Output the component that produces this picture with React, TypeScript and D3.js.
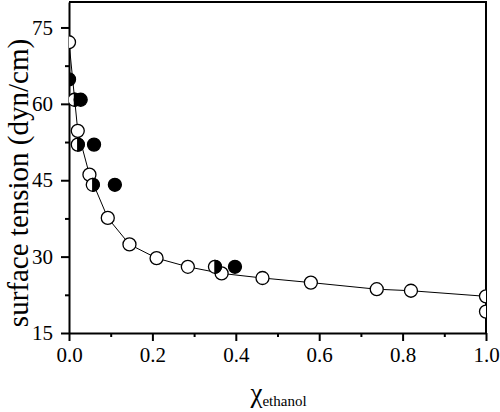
import React, { useEffect, useRef } from 'react';
import * as d3 from 'd3';

// Open circles (the fitted curve runs through all but the last one)
const OPEN_X = [0, 0.021, 0.049, 0.093, 0.145, 0.21, 0.285, 0.366, 0.464, 0.58, 0.738, 0.82, 1.0, 1.0];
const OPEN_Y = [72.1, 54.7, 46.1, 37.6, 32.4, 29.7, 28.0, 26.7, 25.8, 24.9, 23.6, 23.3, 22.2, 19.2];

// Curve through the open circles
const CURVE_X = [0, 0.021, 0.049, 0.093, 0.145, 0.21, 0.285, 0.366, 0.464, 0.58, 0.738, 0.82, 1.0];
const CURVE_Y = [72.1, 54.7, 46.1, 37.6, 32.4, 29.7, 28.0, 26.7, 25.8, 24.9, 23.6, 23.3, 22.2];

// Half filled circles (right half black)
const HALF_X = [0.013, 0.021, 0.057, 0.35];
const HALF_Y = [60.8, 52.0, 44.1, 28.0];

// Filled circles
const FILLED_X = [0, 0.028, 0.06, 0.11, 0.398];
const FILLED_Y = [64.8, 60.8, 52.0, 44.1, 28.0];

const X_TICKS = [0, 0.2, 0.4, 0.6, 0.8, 1.0];
const X_MINOR = [0.1, 0.3, 0.5, 0.7, 0.9];
const Y_TICKS = [15, 30, 45, 60, 75];
const Y_MINOR = [22.5, 37.5, 52.5, 67.5];

const FONT = '"Liberation Serif", "Times New Roman", serif';

export default function App() {
  const ref = useRef<SVGSVGElement>(null);

  useEffect(() => {
    const margin = { top: 2, right: 14, bottom: 79, left: 69 };
    const width = 500 - margin.left - margin.right;
    const height = 412 - margin.top - margin.bottom;

    const root = d3.select(ref.current);
    root.selectAll('*').remove();

    const svg = root.append('g')
      .attr('transform', 'translate(' + margin.left + ',' + margin.top + ')');

    const x = d3.scaleLinear().domain([0, 1]).range([0, width]);
    const y = d3.scaleLinear().domain([15, 80]).range([height, 0]);

    svg.append('clipPath').attr('id', 'plot-clip')
      .append('rect').attr('width', width).attr('height', height);

    // frame (top and right)
    svg.append('path')
      .attr('d', `M0,0H${width}V${height}`)
      .attr('fill', 'none')
      .attr('stroke', 'black')
      .attr('stroke-width', 2);

    // bottom axis
    const xAxis = svg.append('g')
      .attr('transform', 'translate(0,' + height + ')')
      .call(d3.axisBottom(x).tickValues(X_TICKS).tickSize(8).tickSizeOuter(0).tickPadding(4)
        .tickFormat(d3.format('.1f')));
    xAxis.append('g')
      .call(d3.axisBottom(x).tickValues(X_MINOR).tickSize(4).tickFormat(() => ''))
      .select('.domain').remove();

    // left axis
    const yAxis = svg.append('g')
      .call(d3.axisLeft(y).tickValues(Y_TICKS).tickSize(8).tickSizeOuter(0).tickPadding(8));
    yAxis.append('g')
      .call(d3.axisLeft(y).tickValues(Y_MINOR).tickSize(4).tickFormat(() => ''))
      .select('.domain').remove();

    [xAxis, yAxis].forEach(a => {
      a.attr('font-family', null).style('font-family', FONT);
      a.selectAll('path, line').attr('stroke', 'black').attr('stroke-width', 2);
      a.selectAll('text')
        .style('font-family', FONT)
        .style('font-size', '21px')
        .attr('fill', 'black');
    });
    xAxis.selectAll('text').attr('dy', '0.82em');

    const plot = svg.append('g').attr('clip-path', 'url(#plot-clip)');

    const curve = d3.line<number>()
      .x((d, i) => x(CURVE_X[i]))
      .y(d => y(d));
    plot.append('path')
      .attr('d', curve(CURVE_Y))
      .attr('fill', 'none')
      .attr('stroke', 'black')
      .attr('stroke-width', 1);

    const r = 6.5;

    plot.selectAll('.open')
      .data(OPEN_Y)
      .enter()
      .append('circle')
      .attr('cx', (d, i) => x(OPEN_X[i]))
      .attr('cy', d => y(d))
      .attr('r', r)
      .attr('fill', 'white')
      .attr('stroke', 'black')
      .attr('stroke-width', 1.3);

    const half = plot.selectAll('.half')
      .data(HALF_Y)
      .enter()
      .append('g')
      .attr('transform', (d, i) => `translate(${x(HALF_X[i])},${y(d)})`);
    half.append('circle')
      .attr('r', r)
      .attr('fill', 'white')
      .attr('stroke', 'black')
      .attr('stroke-width', 1.3);
    half.append('path')
      .attr('d', `M0,${-r}A${r},${r} 0 0 1 0,${r}Z`)
      .attr('fill', 'black')
      .attr('stroke', 'black')
      .attr('stroke-width', 1.3);

    plot.selectAll('.filled')
      .data(FILLED_Y)
      .enter()
      .append('circle')
      .attr('cx', (d, i) => x(FILLED_X[i]))
      .attr('cy', d => y(d))
      .attr('r', r)
      .attr('fill', 'black')
      .attr('stroke', 'black')
      .attr('stroke-width', 1.3);

    // Y axis label
    svg.append('text')
      .attr('text-anchor', 'middle')
      .attr('transform', 'rotate(-90)')
      .attr('x', -181)
      .attr('y', 28 - margin.left)
      .style('font-family', FONT)
      .style('font-size', '29px')
      .text('surface tension (dyn/cm)');

    // X axis label
    const xl = svg.append('text')
      .attr('text-anchor', 'middle')
      .attr('x', width / 2 + 1)
      .attr('y', 402 - margin.top)
      .style('font-family', FONT);
    xl.append('tspan').style('font-size', '27px').text('χ');
    xl.append('tspan').style('font-size', '15px').attr('dy', 4).text('ethanol');
  }, []);

  return (
    <svg ref={ref} width={500} height={412}
      style={{ position: 'absolute', left: 0, top: 0, background: 'white' }} />
  );
}
